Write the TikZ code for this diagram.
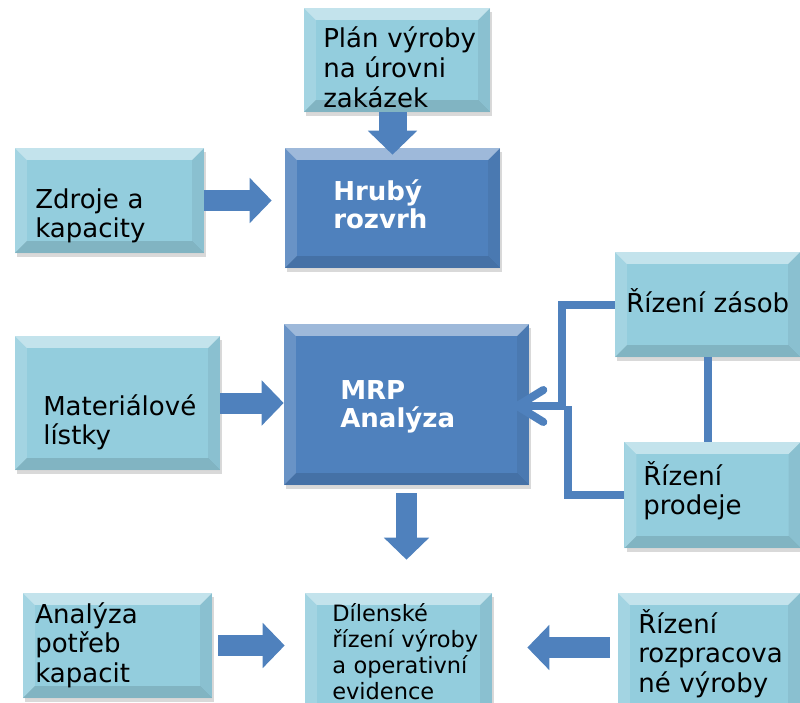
\documentclass[tikz,border=0pt]{standalone}
\usepackage{fontspec}
\setmainfont{DejaVu Sans}
\usetikzlibrary{arrows.meta,shadows}

\definecolor{boxlight}{RGB}{147,205,221}
\definecolor{boxdark}{RGB}{79,129,189}

\tikzset{
  bevel/.style={path picture={
      \path (path picture bounding box.north west) coordinate (nw)
            (path picture bounding box.north east) coordinate (ne)
            (path picture bounding box.south east) coordinate (se)
            (path picture bounding box.south west) coordinate (sw);
      \fill[white,opacity=.45] (nw) -- (ne) -- ([shift={(-.3cm,-.3cm)}]ne) -- ([shift={(.3cm,-.3cm)}]nw) -- cycle;
      \fill[white,opacity=.15] (nw) -- ([shift={(.3cm,-.3cm)}]nw) -- ([shift={(.3cm,.3cm)}]sw) -- (sw) -- cycle;
      \fill[black,opacity=.12] (sw) -- (se) -- ([shift={(-.3cm,.3cm)}]se) -- ([shift={(.3cm,.3cm)}]sw) -- cycle;
      \fill[black,opacity=.06] (ne) -- (se) -- ([shift={(-.3cm,.3cm)}]se) -- ([shift={(-.3cm,-.3cm)}]ne) -- cycle;
    }},
  lightbox/.style={fill=boxlight, bevel, inner sep=0pt,
    drop shadow={opacity=.3, shadow xshift=.06cm, shadow yshift=-.1cm}},
  darkbox/.style={lightbox, fill=boxdark},
  boxtext/.style={anchor=base west, inner sep=0pt, text width=6cm, align=left,
    font=\fontsize{18.5}{21.3}\selectfont},
  boldtext/.style={boxtext, text=white, font=\fontsize{18.5}{20.6}\selectfont\bfseries},
  blockarrow/.style={boxdark, line width=.525cm, -{Triangle[length=.55cm, width=1.1cm]}},
  fbline/.style={boxdark, line width=.2cm}
}

\begin{document}
\begin{tikzpicture}[x=0.025cm, y=-0.025cm]
  \useasboundingbox (0,0) rectangle (800,702);
  \clip (0,0) rectangle (800,702);

  % boxes
  \node[lightbox, minimum width=4.65cm, minimum height=2.6cm] (plan) at (397,60) {};
  \node[darkbox, minimum width=5.375cm, minimum height=3cm] (hruby) at (392.5,208) {};
  \node[lightbox, minimum width=4.725cm, minimum height=2.625cm] (zdroje) at (109.5,200.5) {};
  \node[lightbox, minimum width=5.125cm, minimum height=3.35cm] (material) at (117.5,403) {};
  \node[darkbox, minimum width=6.125cm, minimum height=4.025cm] (mrp) at (406.5,404.5) {};
  \node[lightbox, minimum width=4.625cm, minimum height=2.625cm] (zasob) at (707.5,304.5) {};
  \node[lightbox, minimum width=4.4cm, minimum height=2.65cm] (prodej) at (712.5,495) {};
  \node[lightbox, minimum width=4.675cm, minimum height=3.175cm] (dilen) at (398.5,656.5) {};
  \node[lightbox, minimum width=4.55cm, minimum height=3.175cm] (rozprac) at (709,656.5) {};
  \node[lightbox, minimum width=4.725cm, minimum height=2.625cm] (analyza) at (117.5,645.5) {};

  % texts
  \node[boxtext] (plan-t) at (323,48) {Plán výroby\\na úrovni\\zakázek};
  \node[boldtext] (hruby-t) at (333,200) {Hrubý\\rozvrh};
  \node[boxtext] (zdroje-t) at (35,208) {Zdroje a\\kapacity};
  \node[boxtext] (material-t) at (43,415) {Materiálové\\lístky};
  \node[boldtext] (mrp-t) at (340,399) {MRP\\Analýza};
  \node[boxtext] (zasob-t) at (626,312) {Řízení zásob};
  \node[boxtext] (prodej-t) at (643,485) {Řízení\\prodeje};
  \node[boxtext, font=\fontsize{16}{18.5}\selectfont] (dilen-t) at (332,621) {Dílenské\\řízení výroby\\a operativní\\evidence};
  \node[boxtext] (rozprac-t) at (638,633) {Řízení\\rozpracova\\né výroby};
  \node[boxtext] (analyza-t) at (35,623) {Analýza\\potřeb\\kapacit};

  % block arrows
  \draw[blockarrow, line width=.7cm, -{Triangle[length=.6cm, width=1.2cm]}, shorten >=-.175cm]
    (plan.south -| hruby.north) -- (hruby.north);
  \draw[blockarrow, shorten >=.325cm] (zdroje.east) -- (zdroje.east -| hruby.west);
  \draw[blockarrow] (material.east) -- (material.east -| mrp.west);
  \draw[blockarrow, shorten <=.2cm, shorten >=.825cm] (mrp.south) -- (mrp.south |- dilen.north);
  \draw[blockarrow, shorten <=.2cm, shorten >=.875cm] ([yshift=.225cm]rozprac.west) -- ([yshift=.225cm]rozprac.west -| dilen.east);
  \draw[blockarrow, shorten <=.15cm, shorten >=.5cm] (analyza.east) -- (analyza.east -| dilen.west);

  % feedback from the right
  \coordinate (join1) at (562,406);
  \coordinate (join2) at (568,406);
  \draw[fbline, shorten >=-.4cm, -{Straight Barb[round, length=.65cm, width=.8cm]}]
    (zasob.west) -| (join1) -- (join1 -| mrp.east);
  \draw[fbline] (prodej.west) -| (join2);
  \draw[fbline] (zasob.south) -- (zasob.south |- prodej.north);
\end{tikzpicture}
\end{document}
